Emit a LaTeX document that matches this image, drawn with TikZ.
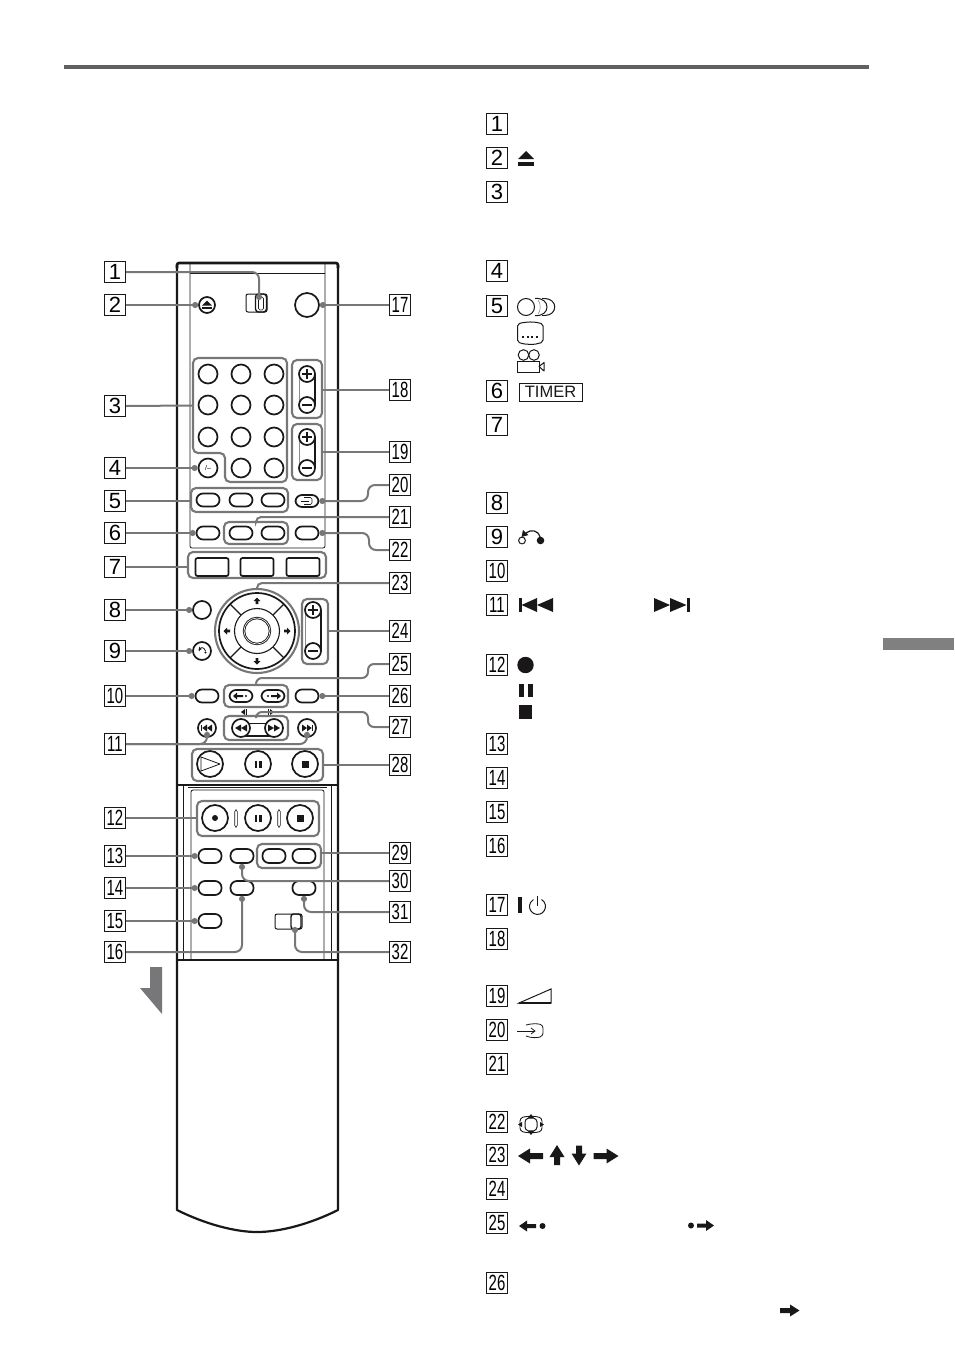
\documentclass[tikz,border=0pt]{standalone}
\usepackage{fontspec}
\usepackage{graphicx}
\setmainfont{Liberation Sans}
\usetikzlibrary{arrows.meta}
\definecolor{ink}{HTML}{1A1718}
\definecolor{lead}{HTML}{77777A}
\tikzset{
  lbl/.style={draw=ink,line width=1.2pt,rectangle,minimum width=21pt,minimum height=20.5pt,inner sep=0pt,font=\fontsize{22}{22}\selectfont,text=black,fill=white},
  btn/.style={circle,draw=ink,line width=1.7pt,inner sep=0pt,fill=white,font=\fontsize{7}{7}\selectfont},
  key/.style={btn,minimum size=19pt},
  pm/.style={btn,minimum size=16pt},
  big/.style={btn,minimum size=26pt},
  pill/.style={rectangle,draw=ink,line width=1.7pt,rounded corners=6.5pt,minimum width=23pt,minimum height=13pt,inner sep=0pt,fill=white},
  sq/.style={rectangle,draw=ink,line width=1.7pt,rounded corners=2pt,minimum width=33pt,minimum height=18pt,inner sep=0pt,fill=white},
  grp/.style={rectangle,draw=lead,line width=2.1pt,rounded corners=5pt,inner sep=0pt},
  leadline/.style={draw=lead,line width=2pt,rounded corners=7pt},
  dot/.style={-{Circle[length=6pt,width=6pt]}},
  body/.style={draw=ink,line width=2.2pt},
  thin/.style={draw=ink,line width=0.8pt},
  sym/.style={fill=ink,draw=none},
  symline/.style={draw=ink,line width=1pt,fill=none}
}
\begin{document}
\begin{tikzpicture}[x=1pt,y=-1pt]
\useasboundingbox (0,0) rectangle (954,1352);
% page furniture
\fill[fill=black!62] (64,65) rectangle (869,69);
\fill[fill=black!50] (883,638) rectangle (954,650);
\fill[fill=lead] (150,967) -- (162,967) -- (162,1014) -- (140,988) -- (150,988) -- cycle;
% remote body
\draw[body,line join=round] (177,265) -- (177,1210) .. controls (205,1224) and (235,1232) .. (257,1232) .. controls (280,1232) and (310,1224) .. (338,1210) -- (338,265);
\draw[draw=ink,line width=2.6pt,rounded corners=2pt] (177,268) -- (177,263) -- (338,263) -- (338,268);
\draw[thin,rounded corners=2pt] (190,263) -- (190,548) -- (325,548) -- (325,263);
\draw[thin] (190,273) -- (325,273);
\draw[draw=ink,line width=1.5pt] (177,785) -- (338,785);
\draw[thin] (183,785) -- (183,960);
\draw[thin] (331,785) -- (331,960);
\draw[thin] (188,787.5) -- (327,787.5);
\draw[thin,rounded corners=2pt] (191,960) -- (191,790) -- (324,790) -- (324,960);
\draw[draw=ink,line width=2.6pt] (177,960) -- (338,960);
% groups
\draw[draw=lead,line width=2.1pt,rounded corners=5pt] (193,358) -- (287,358) -- (287,482) -- (225,482) -- (225,453) -- (193,453) -- cycle;
\node[grp,minimum width=30pt,minimum height=58pt] (g18) at (307,389) {};
\node[grp,minimum width=30pt,minimum height=56pt] (g19) at (307,452) {};
\node[grp,minimum width=97pt,minimum height=24pt] (g5) at (239.5,500) {};
\node[grp,minimum width=64pt,minimum height=22pt] (g21) at (256,533) {};
\node[grp,minimum width=138pt,minimum height=26pt] (g7) at (257,565) {};
\node[grp,minimum width=26pt,minimum height=65pt] (g24) at (315,631.5) {};
\node[grp,minimum width=64pt,minimum height=22pt] (g25) at (256,696) {};
\node[grp,minimum width=64pt,minimum height=24pt] (g27) at (256,728) {};
\node[grp,minimum width=131pt,minimum height=32pt] (g28) at (257.5,765) {};
\node[grp,minimum width=122pt,minimum height=35pt] (g12) at (258,818.5) {};
\node[grp,minimum width=64pt,minimum height=24pt] (g29) at (289,856) {};
\draw[draw=lead,line width=2.1pt] (257,631) circle[radius=42pt];
% top switch, eject, power
\draw[thin,rounded corners=2pt,line width=1pt] (246,294) rectangle (267,312);
\node[rectangle,draw=ink,line width=1.4pt,rounded corners=3pt,minimum width=11pt,minimum height=18pt,inner sep=0pt] (sw1) at (261,303) {};
\draw[draw=ink,line width=0.6pt,rounded corners=1.5pt] (258.5,297) rectangle (263.5,310);
\coordinate (sw1dot) at (259,300);
\node[btn,minimum size=16pt] (eject) at (207,305) {};
\fill[sym] (202,305.5) -- (207,300.5) -- (212,305.5) -- cycle;
\fill[sym] (202,307) rectangle (212,309);
\node[btn,minimum size=24pt] (power) at (307,305) {};
% keypad
\foreach \n/\x/\y in {a/208/374,b/241/374,c/274/374,d/208/405,e/241/405,f/274/405,g/208/437,h/241/437,i/274/437,k/241/468,l/274/468}
  \node[key] (key\n) at (\x,\y) {};
\node[key,font=\fontsize{7}{7}\selectfont] (keyj) at (208,468) {/--};
\coordinate (kpedge) at (193,405.5);
% plus-minus pairs
\foreach \t/\u/\v in {374/405/18,437/468/19,610/651/24}{
  \pgfmathsetmacro{\xx}{\v==24 ? 313 : 307}
  \draw[draw=black!45,line width=0.8pt] (\xx-8,\t) -- (\xx-8,\u);
  \draw[draw=ink,line width=1.4pt] (\xx+8,\t) -- (\xx+8,\u);
  \node[pm] (p\v) at (\xx,\t) {};
  \node[pm] (m\v) at (\xx,\u) {};
  \draw[draw=ink,line width=1.1pt] (\xx-5,\t) -- (\xx+5,\t) (\xx,\t-5) -- (\xx,\t+5);
  \draw[draw=ink,line width=1.1pt] (\xx-5,\u) -- (\xx+5,\u);
}
% pills row 5, 6, input
\node[pill] (r5a) at (208,500) {};
\node[pill] (r5b) at (241,500) {};
\node[pill] (r5c) at (273,500) {};
\node[pill,minimum height=12pt] (input) at (307,501) {};
\draw[symline,line width=0.6pt] (301,501) -- (309,501);
\draw[symline,line width=0.6pt,rounded corners=1.5pt] (304,497.5) -- (312,497.5) -- (312,504.5) -- (304,504.5);
\node[pill] (timer) at (208,533) {};
\node[pill] (r21a) at (241,533) {};
\node[pill] (r21b) at (273,533) {};
\node[pill] (wide) at (307,533) {};
\node[sq] (r7a) at (212,567) {};
\node[sq] (r7b) at (257,567) {};
\node[sq] (r7c) at (303,567) {};
% d-pad
\draw[draw=ink,line width=1.7pt,fill=white] (257,631) circle[radius=38pt];
\draw[draw=ink,line width=1.1pt] (257,631) circle[radius=22.5pt];
\foreach \sx/\sy in {1/1,1/-1,-1/1,-1/-1}
  \draw[draw=ink,line width=1.1pt] (257+\sx*16,631+\sy*16) -- (257+\sx*27,631+\sy*27);
\node[btn,minimum size=26pt,double=white,double distance=0.6pt,line width=0.9pt] (center) at (257,631) {};
\fill[sym] (257,597.5) -- (260.5,601) -- (258.3,601) -- (258.3,604) -- (255.7,604) -- (255.7,601) -- (253.5,601) -- cycle;
\fill[sym] (257,664.5) -- (260.5,661) -- (258.3,661) -- (258.3,658) -- (255.7,658) -- (255.7,661) -- (253.5,661) -- cycle;
\fill[sym] (223.5,631) -- (227,627.5) -- (227,629.7) -- (230,629.7) -- (230,632.3) -- (227,632.3) -- (227,634.5) -- cycle;
\fill[sym] (290.5,631) -- (287,627.5) -- (287,629.7) -- (284,629.7) -- (284,632.3) -- (287,632.3) -- (287,634.5) -- cycle;
\node[btn,minimum size=18pt] (menu) at (202,610) {};
\node[btn,minimum size=18pt] (ret) at (202,651) {};
\draw[draw=ink,line width=0.8pt] (199,651) .. controls (200,646.5) and (204,646.5) .. (205.5,651);
\fill[sym] (205.5,652.5) circle[radius=1.2pt];
\fill[sym] (198.5,650) -- (201.5,649.5) -- (199.5,646.5) -- cycle;
% row 10, 25, 26
\node[pill] (b10) at (207,696) {};
\node[pill,minimum height=12pt] (b25a) at (241,696) {};
\node[pill,minimum height=12pt] (b25b) at (273,696) {};
\node[pill] (b26) at (307,696) {};
\fill[sym] (233,696) -- (237,692.5) -- (237,695) -- (243,695) -- (243,697) -- (237,697) -- (237,699.5) -- cycle;
\fill[sym] (246,696) circle[radius=1.2pt];
\fill[sym] (281,696) -- (277,692.5) -- (277,695) -- (271,695) -- (271,697) -- (277,697) -- (277,699.5) -- cycle;
\fill[sym] (268,696) circle[radius=1.2pt];
% marks and row 11, 27
\fill[sym] (241,712) -- (245,709) -- (245,715) -- cycle; \fill[sym] (246,709) rectangle (247,715);
\fill[sym] (268,709) rectangle (269,715); \fill[sym] (274,712) -- (270,709) -- (270,715) -- cycle;
\draw[draw=ink,line width=0.7pt] (241,723) -- (274,723);
\draw[draw=ink,line width=1.1pt] (241,736) -- (274,736);
\node[btn,minimum size=18pt] (b11l) at (207,728) {};
\node[btn,minimum size=18pt] (b11r) at (307,728) {};
\node[btn,minimum size=18pt] (b27a) at (241,728) {};
\node[btn,minimum size=18pt] (b27b) at (274,728) {};
\fill[sym] (201,725) rectangle (202.3,731); \fill[sym] (202.3,728) -- (207,724.5) -- (207,731.5) -- cycle; \fill[sym] (207,728) -- (212,724.5) -- (212,731.5) -- cycle;
\fill[sym] (313,725) rectangle (311.7,731); \fill[sym] (311.7,728) -- (307,724.5) -- (307,731.5) -- cycle; \fill[sym] (307,728) -- (302,724.5) -- (302,731.5) -- cycle;
\fill[sym] (235,728) -- (241,724.5) -- (241,731.5) -- cycle; \fill[sym] (241,728) -- (247,724.5) -- (247,731.5) -- cycle;
\fill[sym] (280,728) -- (274,724.5) -- (274,731.5) -- cycle; \fill[sym] (274,728) -- (268,724.5) -- (268,731.5) -- cycle;
% row 28
\node[big] (play) at (210,764) {};
\node[big] (pause) at (258,764) {};
\node[big] (stopb) at (305,764) {};
\draw[draw=ink,line width=0.8pt,line join=round] (201,757) -- (201,771) -- (220,764) -- cycle;
\fill[sym] (254.5,760.5) rectangle (256.8,767.5); \fill[sym] (259.2,760.5) rectangle (261.5,767.5);
\fill[sym] (301.5,760.5) rectangle (308.5,767.5);
% row 12
\node[big] (rec) at (215,818) {};
\node[big] (rpause) at (258,818) {};
\node[big] (rstop) at (300,818) {};
\fill[sym] (215,818) circle[radius=3pt];
\fill[sym] (254.5,814.5) rectangle (256.8,821.5); \fill[sym] (259.2,814.5) rectangle (261.5,821.5);
\fill[sym] (296.5,814.5) rectangle (303.5,821.5);
\draw[draw=ink,line width=0.6pt,rounded corners=1.5pt] (234.7,810) rectangle (237.3,827);
\draw[draw=ink,line width=0.6pt,rounded corners=1.5pt] (277.7,810) rectangle (280.3,827);
% lower pills
\node[pill,minimum height=14pt] (b13) at (210,856) {};
\node[pill,minimum height=14pt] (b30) at (242,856) {};
\node[pill,minimum height=14pt] (b29a) at (274,856) {};
\node[pill,minimum height=14pt] (b29b) at (304,856) {};
\node[pill,minimum height=14pt] (b14) at (210,888) {};
\node[pill,minimum height=14pt] (b16) at (242,888) {};
\node[pill,minimum height=14pt] (b31) at (304,888) {};
\node[pill,minimum height=14pt] (b15) at (210,921) {};
\draw[draw=ink,line width=1pt,rounded corners=2pt] (275,914) rectangle (302,929);
\node[rectangle,draw=ink,line width=1.4pt,rounded corners=2.5pt,minimum width=10pt,minimum height=15pt,inner sep=0pt] (sw2) at (296,921.5) {};
\coordinate (sw2dot) at (295,927);
% left labels
\foreach \n/\y in {1/272,2/305,3/406,4/468,5/501,6/533,7/567,8/610,9/651}
  \node[lbl] (L\n) at (115,\y) {\n};
\foreach \n/\y in {10/696,11/744,12/818,13/856,14/888,15/921,16/952}
  \node[lbl] (L\n) at (115,\y) {\scalebox{.68}[1]{\n}};
% right labels
\foreach \n/\y in {17/305,18/390,19/452,20/485,21/517,22/550,23/583,24/631,25/664,26/696,27/727,28/765,29/853,30/881,31/912,32/952}
  \node[lbl] (L\n) at (400,\y) {\scalebox{.68}[1]{\n}};
% connectors, left
\draw[leadline,dot] (L1.east) -| (sw1dot);
\draw[leadline,dot] (L2.east) -- (eject.west);
\draw[leadline] (L3.east) -- (kpedge);
\draw[leadline,dot] (L4.east) -- (keyj.west);
\draw[leadline] (L5.east) -- (g5.west |- L5.east);
\draw[leadline,dot] (L6.east) -- (timer.west);
\draw[leadline] (L7.east) -- (g7.west |- L7.east);
\draw[leadline,dot] (L8.east) -- (menu.west);
\draw[leadline,dot] (L9.east) -- (ret.west);
\draw[leadline,dot] (L10.east) -- (b10.west);
\draw[leadline,dot] (L11.east) -| (b11l.south);
\draw[leadline,dot] (L11.east) -| (b11r.south);
\draw[leadline] (L12.east) -- (g12.west |- L12.east);
\draw[leadline,dot] (L13.east) -- (b13.west);
\draw[leadline,dot] (L14.east) -- (b14.west);
\draw[leadline,dot] (L15.east) -- (b15.west);
\draw[leadline,dot] (L16.east) -| (b16.south);
% connectors, right
\draw[leadline,dot] (L17.west) -- (power.east);
\draw[leadline] (L18.west) -- (g18.east |- L18.west);
\draw[leadline] (L19.west) -- (g19.east |- L19.west);
\draw[leadline,dot] (L20.west) -- (368,485) -- (368,501) -- (input.east);
\draw[leadline,rounded corners=5pt] (L21.west) -| (g21.north);
\draw[leadline,dot] (L22.west) -- (369,550) -- (369,533) -- (wide.east);
\coordinate (dtop) at (257,589);
\draw[leadline,rounded corners=5pt] (L23.west) -| (dtop);
\draw[leadline] (L24.west) -- (g24.east |- L24.west);
\draw[leadline,rounded corners=6pt] (L25.west) -- (368,664) -- (368,678) -- (256,678) -- (g25.north);
\draw[leadline,dot] (L26.west) -- (b26.east);
\draw[leadline,rounded corners=6pt] (L27.west) -- (368,727) -- (368,712) -- (256,712) -- (g27.north);
\draw[leadline] (L28.west) -- (g28.east |- L28.west);
\draw[leadline] (L29.west) -- (g29.east |- L29.west);
\draw[leadline,dot] (L30.west) -| (b30.south);
\draw[leadline,dot] (L31.west) -| (b31.south);
\draw[leadline,dot] (L32.west) -| (sw2dot);
% legend labels
\foreach \n/\y in {1/124,2/158,3/192,4/271,5/306,6/391,7/425,8/503,9/537}
  \node[lbl] (R\n) at (497,\y) {\n};
\foreach \n/\y in {10/571,11/605,12/665,13/744,14/778,15/812,16/846,17/905,18/939,19/996,20/1030,21/1064,22/1122,23/1155,24/1189,25/1223,26/1283}
  \node[lbl] (R\n) at (497,\y) {\scalebox{.68}[1]{\n}};
% legend symbols
\fill[sym] (518,159) -- (526,151) -- (534,159) -- cycle;
\fill[sym] (518,162) rectangle (534,165.5);
\draw[symline] (526,307) circle[radius=8.5pt];
\draw[symline] (535,298.5) .. controls (551,297) and (551,317) .. (535,315.5);
\draw[draw=black!45,line width=0.6pt] (538,300) .. controls (541,303) and (541,311) .. (538,314);
\draw[symline] (545,298.5) .. controls (558,299) and (558,315) .. (545,315.5);
\draw[symline] (542,298.5) -- (545,298.5) (542,315.5) -- (545,315.5);
\draw[symline,rounded corners=2pt] (517.5,324) .. controls (526,321.5) and (535,321.5) .. (543,324) -- (543,342) .. controls (535,345) and (526,345) .. (517.5,342) -- cycle;
\foreach \x in {522,526.5,531,535.5} \fill[sym] (\x,336) rectangle (\x+2,338);
\draw[symline] (523.5,355) circle[radius=5.3pt];
\draw[symline] (534,355) circle[radius=5.3pt];
\draw[symline] (517.5,361) rectangle (539,372);
\draw[symline,line join=round] (539,366.5) -- (544,362.5) -- (544,371) -- cycle;
\node[draw=ink,line width=0.9pt,rectangle,minimum width=63pt,minimum height=18pt,inner sep=0pt,font=\fontsize{16.5}{16.5}\selectfont,text=ink] (timersym) at (550.5,392) {TIMER};
\draw[symline] (522,540.5) circle[radius=3.4pt];
\fill[sym] (540.5,540.5) circle[radius=3.8pt];
\draw[draw=ink,line width=1.2pt] (540,537) .. controls (538,530) and (531,529) .. (526,533);
\fill[sym] (521.5,537) -- (523,530) -- (528.5,535) -- cycle;
% skip
\fill[sym] (518.5,598) rectangle (521.5,612); \fill[sym] (521.5,605) -- (537,598) -- (537,612) -- cycle; \fill[sym] (537,605) -- (553,598) -- (553,612) -- cycle;
\fill[sym] (654,598) -- (670,605) -- (654,612) -- cycle; \fill[sym] (670,598) -- (686.5,605) -- (670,612) -- cycle; \fill[sym] (686.5,598) rectangle (689.5,612);
% record, pause, stop
\fill[sym] (525.5,665) circle[radius=8.2pt];
\fill[sym] (518.5,683.5) rectangle (524,697); \fill[sym] (527.5,683.5) rectangle (533,697);
\fill[sym] (518.5,705) rectangle (532,719);
% power
\fill[sym] (518,897) rectangle (522,913);
\draw[symline] (537,896) -- (537,906);
\draw[symline] (541.5,899.5) arc[start angle=60,end angle=-240,radius=8pt];
% volume wedge
\draw[symline,line join=miter] (519,1003) -- (551,989) -- (551,1003) -- cycle;
\draw[draw=ink,line width=1.8pt] (519,1003) -- (551,1003);
% input
\draw[symline,line width=0.8pt] (517,1031) -- (534,1031);
\draw[symline,line width=0.8pt] (531,1028) -- (535,1031) -- (531,1034);
\draw[symline,line width=0.8pt,rounded corners=3pt] (526,1025) .. controls (531,1023.5) and (537,1023.5) .. (543,1025) -- (543,1036) .. controls (537,1038) and (531,1038) .. (526,1036);
% wide
\draw[symline,line width=0.9pt,rounded corners=3pt] (520,1118) .. controls (527,1116) and (535,1116) .. (542,1118) -- (542,1131) .. controls (535,1133) and (527,1133) .. (520,1131) -- cycle;
\draw[symline,fill=white,line width=1pt,rounded corners=3pt] (525,1119) .. controls (529,1118) and (533,1118) .. (537,1119) -- (537,1130) .. controls (533,1131) and (529,1131) .. (525,1130) -- cycle;
\fill[sym] (531,1114) -- (534,1118) -- (528,1118) -- cycle;
\fill[sym] (531,1135) -- (534,1131) -- (528,1131) -- cycle;
\fill[sym] (518,1124.5) -- (522,1122) -- (522,1127) -- cycle;
\fill[sym] (544,1124.5) -- (540,1122) -- (540,1127) -- cycle;
% arrows 23
\fill[sym] (518,1156) -- (530,1148.5) -- (530,1153) -- (543,1153) -- (543,1159) -- (530,1159) -- (530,1163.5) -- cycle;
\fill[sym] (557,1145) -- (564.5,1157) -- (560,1157) -- (560,1165) -- (554,1165) -- (554,1157) -- (549.5,1157) -- cycle;
\fill[sym] (579,1165.5) -- (586.5,1153.5) -- (582,1153.5) -- (582,1145.5) -- (576,1145.5) -- (576,1153.5) -- (571.5,1153.5) -- cycle;
\fill[sym] (618.5,1156) -- (606.5,1148.5) -- (606.5,1153) -- (593.5,1153) -- (593.5,1159) -- (606.5,1159) -- (606.5,1163.5) -- cycle;
% arrows 25
\fill[sym] (519,1226) -- (527,1220.5) -- (527,1224) -- (536,1224) -- (536,1228) -- (527,1228) -- (527,1231.5) -- cycle;
\fill[sym] (542.5,1226) circle[radius=3pt];
\fill[sym] (691,1225.5) circle[radius=3pt];
\fill[sym] (714,1225.5) -- (706,1220) -- (706,1223.5) -- (697,1223.5) -- (697,1227.5) -- (706,1227.5) -- (706,1231) -- cycle;
\fill[sym] (799.5,1310.5) -- (790,1304.5) -- (790,1308) -- (780,1308) -- (780,1313) -- (790,1313) -- (790,1316.5) -- cycle;
\end{tikzpicture}
\end{document}
